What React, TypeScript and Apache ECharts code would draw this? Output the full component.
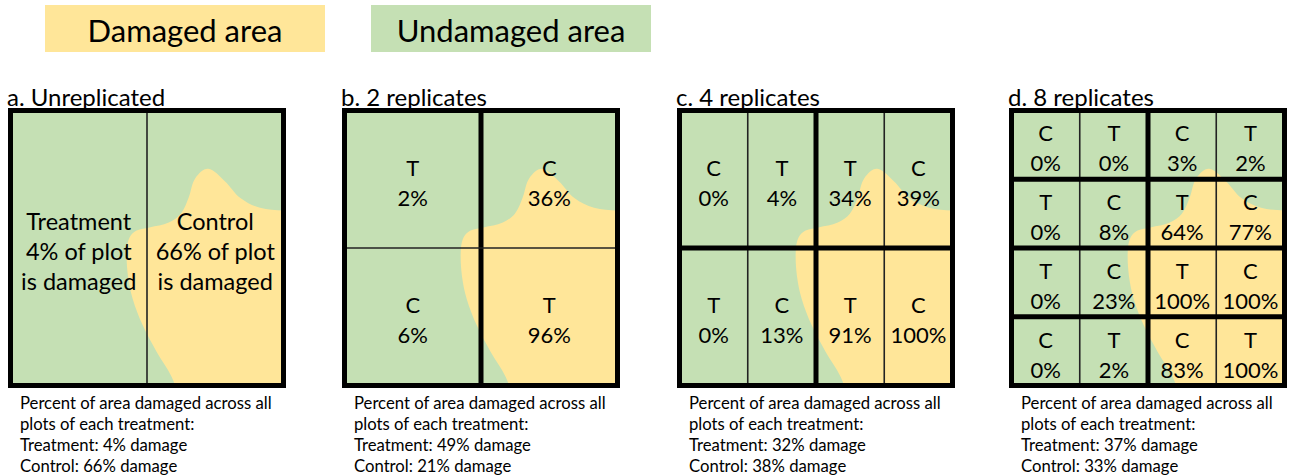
import React, { useEffect, useRef } from "react";
import * as echarts from "echarts";

const YELLOW = "#FFE699";
const GREEN = "#C5E0B4";
const FONT = "Lato, 'Open Sans', sans-serif";

const legendLabels = ["Damaged area", "Undamaged area"];
const panelTitles = ["a. Unreplicated", "b. 2 replicates", "c. 4 replicates", "d. 8 replicates"];

// a. unreplicated (1 row x 2 plots)
const aLabels = ["Treatment", "Control"];
const aDamage = [4, 66];
// b. 2 replicates (2 x 2, row-major)
const bLetters = ["T", "C", "C", "T"];
const bDamage = [2, 36, 6, 96];
// c. 4 replicates (2 rows x 4)
const cLetters = ["C", "T", "T", "C", "T", "C", "T", "C"];
const cDamage = [0, 4, 34, 39, 0, 13, 91, 100];
// d. 8 replicates (4 x 4)
const dLetters = ["C", "T", "C", "T", "T", "C", "T", "C", "T", "C", "T", "C", "C", "T", "C", "T"];
const dDamage = [0, 0, 3, 2, 0, 8, 64, 77, 0, 23, 100, 100, 0, 2, 83, 100];

const treatmentTotals = [4, 49, 32, 37];
const controlTotals = [66, 21, 38, 33];

// outline of the damaged area, as fractions of the field (x to the right, y downward)
const blobX = [1.3, 1.1, 1.0, 0.914, 0.842, 0.785, 0.724, 0.677, 0.652, 0.624, 0.58, 0.509, 0.462, 0.437, 0.426, 0.43, 0.448, 0.484, 0.534, 0.591, 0.615, 0.63, 1.3];
const blobY = [0.37, 0.366, 0.364, 0.354, 0.318, 0.257, 0.212, 0.246, 0.318, 0.375, 0.407, 0.425, 0.436, 0.46, 0.507, 0.6, 0.686, 0.78, 0.875, 0.97, 1.05, 1.3, 1.3];

const panels = [
  { cols: 2, rows: 1, size: 23.5, thickV: [] as number[], thickH: [] as number[], texts: aLabels.map((l, i) => `${l}\n${aDamage[i]}% of plot\nis damaged`) },
  { cols: 2, rows: 2, size: 22, thickV: [1], thickH: [] as number[], texts: bLetters.map((l, i) => `${l}\n${bDamage[i]}%`) },
  { cols: 4, rows: 2, size: 22, thickV: [2], thickH: [1], texts: cLetters.map((l, i) => `${l}\n${cDamage[i]}%`) },
  { cols: 4, rows: 4, size: 22, thickV: [2], thickH: [1, 2, 3], texts: dLetters.map((l, i) => `${l}\n${dDamage[i]}%`) },
];

const LEFTS = [8, 342, 677, 1009];
const TOP = 108;
const W = 278;
const H = 280;
const B = 5;

function buildOption() {
  const grid: any[] = [];
  const xAxis: any[] = [];
  const yAxis: any[] = [];
  const series: any[] = [];
  const graphic: any[] = [];

  panels.forEach((p, i) => {
    grid.push({
      left: LEFTS[i] + B / 2,
      top: TOP + B / 2,
      width: W - B,
      height: H - B,
      show: true,
      backgroundColor: GREEN,
      borderWidth: 0,
    });
    xAxis.push({ type: "value", gridIndex: i, min: 0, max: p.cols, show: false });
    yAxis.push({ type: "value", gridIndex: i, min: 0, max: p.rows, inverse: true, show: false });

    // damaged area
    series.push({
      type: "custom",
      xAxisIndex: i,
      yAxisIndex: i,
      clip: true,
      silent: true,
      z: 1,
      data: [[0, 0]],
      renderItem: (_params: any, api: any) => {
        const points = blobX.map((u, k) => api.coord([u * p.cols, blobY[k] * p.rows]));
        return { type: "polygon", shape: { points, smooth: 0.35 }, style: { fill: YELLOW } };
      },
    });

    // plot / block boundaries
    const lines: number[][] = [];
    for (let c = 1; c < p.cols; c++) lines.push([c, 0, c, p.rows, p.thickV.includes(c) ? 1 : 0]);
    for (let r = 1; r < p.rows; r++) lines.push([0, r, p.cols, r, p.thickH.includes(r) ? 1 : 0]);
    lines.push([0, 0, p.cols, p.rows, 2]);
    series.push({
      type: "custom",
      xAxisIndex: i,
      yAxisIndex: i,
      silent: true,
      z: 3,
      data: lines,
      renderItem: (_params: any, api: any) => {
        const a = api.coord([api.value(0), api.value(1)]);
        const b = api.coord([api.value(2), api.value(3)]);
        const kind = api.value(4);
        if (kind === 2) {
          return {
            type: "rect",
            shape: { x: a[0], y: a[1], width: b[0] - a[0], height: b[1] - a[1] },
            style: { fill: "none", stroke: "#000", lineWidth: B },
          };
        }
        return {
          type: "line",
          shape: { x1: a[0], y1: a[1], x2: b[0], y2: b[1] },
          style: { stroke: kind === 1 ? "#000" : "#222", lineWidth: kind === 1 ? B : 1.6 },
        };
      },
    });

    // plot labels
    const cells: number[][] = [];
    for (let r = 0; r < p.rows; r++) for (let c = 0; c < p.cols; c++) cells.push([c + 0.5, r + 0.5]);
    series.push({
      type: "custom",
      xAxisIndex: i,
      yAxisIndex: i,
      silent: true,
      z: 4,
      data: cells,
      renderItem: (params: any, api: any) => {
        const pt = api.coord([api.value(0), api.value(1)]);
        return {
          type: "text",
          x: pt[0],
          y: pt[1] + 3,
          style: {
            text: p.texts[params.dataIndex],
            fill: "#000",
            fontSize: p.size,
            fontFamily: FONT,
            lineHeight: 30,
            align: "center",
            verticalAlign: "middle",
          },
        };
      },
    });

    // panel title
    graphic.push({
      type: "text",
      x: LEFTS[i] - 1,
      y: 96,
      style: { text: panelTitles[i], fill: "#000", fontSize: 24, fontFamily: FONT, align: "left", verticalAlign: "middle" },
    });
    // summary
    graphic.push({
      type: "text",
      x: LEFTS[i] + 12,
      y: 392,
      style: {
        text: `Percent of area damaged across all\nplots of each treatment:\nTreatment: ${treatmentTotals[i]}% damage\nControl: ${controlTotals[i]}% damage`,
        fill: "#000",
        fontSize: 16.7,
        lineHeight: 21,
        fontFamily: FONT,
        align: "left",
        verticalAlign: "top",
      },
    });
  });

  // legend
  const legendBoxes = [
    { x: 45, w: 280, color: YELLOW },
    { x: 371, w: 280, color: GREEN },
  ];
  legendBoxes.forEach((bx, k) => {
    graphic.push({ type: "rect", shape: { x: bx.x, y: 5, width: bx.w, height: 47 }, style: { fill: bx.color } });
    graphic.push({
      type: "text",
      x: bx.x + bx.w / 2,
      y: 30,
      style: { text: legendLabels[k], fill: "#000", fontSize: 31, fontFamily: FONT, align: "center", verticalAlign: "middle" },
    });
  });

  return { animation: false, grid, xAxis, yAxis, series, graphic };
}

export default function App() {
  const ref = useRef<HTMLDivElement>(null);
  useEffect(() => {
    document.body.style.margin = "0";
    const chart = echarts.init(ref.current!, null, { renderer: "svg" });
    chart.setOption(buildOption() as any);
    return () => chart.dispose();
  }, []);
  return <div ref={ref} style={{ width: 1289, height: 476 }} />;
}
